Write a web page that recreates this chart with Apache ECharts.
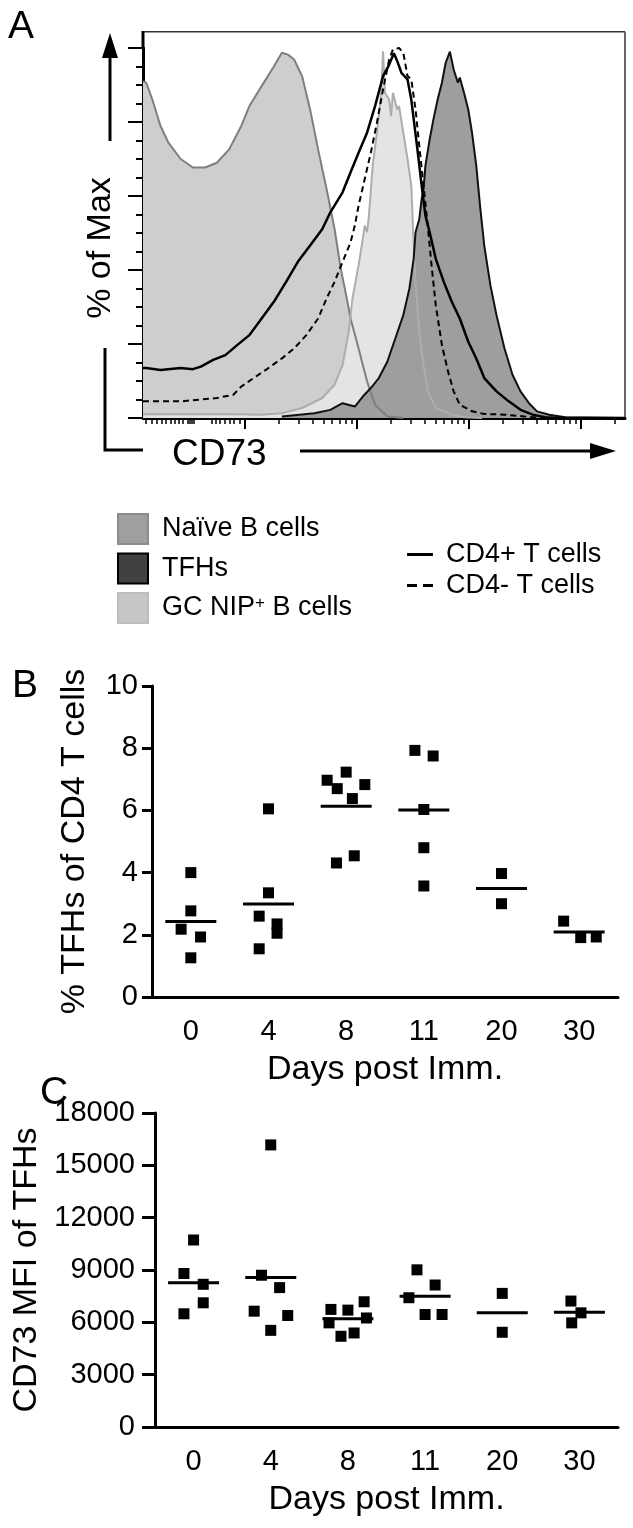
<!DOCTYPE html>
<html><head><meta charset="utf-8">
<script src="https://cdn.jsdelivr.net/npm/echarts@6/dist/echarts.min.js"></script>
<style>html,body{margin:0;padding:0;background:#fff}#c{width:633px;height:1528px}</style>
</head><body><div id="c"></div><script>
// ---------- Panel A : CD73 histograms (x = display channel 0-1024, y = % of Max) ----------
const naiveB = [[0,91],[7,90.6],[20,86],[37,79],[54,74.4],[80,70],[106,67.7],[132,67.7],[157,69],[183,72.6],[209,79],[226,84.3],[252,89.7],[278,95],[295,98.7],[308,98.2],[321,96.9],[338,92.4],[355,83.4],[372,72.6],[390,61.9],[407,51.1],[420,40.4],[433,32.3],[441,26.9],[458,18.8],[476,9.9],[493,3.6],[519,0.4],[553,0]];
const gcNipB = [[0,1],[100,1],[200,1],[250,0.9],[295,1.3],[338,2.7],[381,5.4],[407,9],[424,14.3],[437,23.3],[445,32.3],[458,41.3],[467,48.4],[471,52],[476,50.2],[480,54.7],[488,68.2],[497,77.1],[506,87.9],[510,99.1],[514,87.9],[523,86],[527,81.6],[531,87.9],[540,83.4],[544,84.3],[553,77.1],[562,70],[570,62.8],[574,50.2],[579,36.8],[587,23.3],[596,14.3],[605,7.2],[622,2.7],[656,0.9],[682,0.2],[720,0]];
const tfhHist = [[295,0.4],[364,1.3],[398,2.2],[424,4],[450,3.1],[467,5.8],[484,8.1],[501,10.8],[519,15.2],[536,21.5],[553,27.8],[566,35],[575,43],[579,50.2],[587,53.8],[592,59.2],[596,61.9],[600,68.2],[609,75.3],[617,80.7],[626,86.1],[635,90.6],[643,96],[652,99],[660,94.2],[669,90.6],[673,92],[682,87.9],[691,83.4],[699,77.1],[708,68.2],[716,57.4],[725,46.6],[738,35.9],[751,27.8],[768,18.8],[785,11.7],[802,7.2],[820,4],[837,1.8],[863,0.9],[897,0.2],[1024,0]];
const cd4Pos = [[0,13.5],[7,13.5],[37,13],[80,13.5],[106,13.2],[123,13.9],[149,15.7],[175,17],[200,19.7],[226,22.4],[252,26.9],[278,31.4],[304,36.8],[329,42.2],[355,46.6],[381,51.1],[398,55.6],[424,61],[441,66.4],[458,71.7],[476,77.1],[493,84.3],[510,92.4],[523,95.5],[533,98.6],[540,96.5],[549,93.3],[562,91.5],[570,86],[583,72.6],[592,62.8],[600,54.7],[609,50.2],[622,43],[639,36.8],[656,31.4],[673,26.9],[691,20.6],[708,16.1],[725,10.8],[751,7.2],[777,4.5],[802,2.2],[828,0.9],[854,0.2],[880,0],[1024,0]];
const cd4Neg = [[0,4.5],[7,4.5],[80,4.5],[157,5.4],[192,6.3],[209,8.5],[235,10.8],[261,13],[295,16.1],[321,18.8],[347,22.4],[372,26.9],[390,32.3],[407,36.8],[424,42.2],[441,47.5],[450,52],[458,57.4],[471,64.6],[484,71.7],[497,79.8],[510,88.8],[523,96.9],[531,99.6],[544,100],[553,98.7],[562,92.4],[570,91.5],[579,83.4],[587,73.5],[596,62.8],[605,52],[613,41.3],[622,30.5],[635,19.7],[648,12.6],[660,7.2],[673,3.6],[699,1.8],[725,1.1],[768,0.9],[811,0.4],[850,0]];
// x-axis tick positions (display channels): decades and compressed low region
const cd73DecadeCh = [216.7, 454.6, 692.6, 930.5];
const cd73DecadeWidth = 237.9;
const cd73LowTicksCh = [6,18,30,40,49,59,68,76,85,96,100,104,108,146,155,164,174,185,193,206];

// ---------- Panels B & C ----------
const days = ['0','4','8','11','20','30'];
const tfhPct = [
  [4.0, 2.77, 2.18, 1.93, 1.26],
  [6.05, 3.35, 2.6, 2.35, 2.05, 1.55],
  [6.97, 7.23, 6.7, 6.83, 6.38, 4.31, 4.54],
  [7.93, 7.75, 6.03, 4.8, 3.57],
  [3.97, 3.0],
  [2.44, 1.91, 1.93]
];
const tfhPctJitter = [
  [0, 0, -0.125, 0.125, 0],
  [0, 0, -0.12, 0.11, 0.11, -0.12],
  [-0.245, 0, -0.115, 0.24, 0.08, -0.125, 0.104],
  [-0.115, 0.12, 0, 0, 0],
  [0, 0],
  [-0.2, 0.02, 0.22]
];
const cd73Mfi = [
  [10720, 8800, 8180, 7120, 6490],
  [16170, 8700, 7990, 6640, 6390, 5540],
  [6740, 5970, 6700, 7180, 6250, 5200, 5390],
  [9010, 8140, 7410, 6450, 6450],
  [7660, 5430],
  [7220, 6545, 5970]
];
const cd73MfiJitter = [
  [0, -0.125, 0.125, 0.125, -0.125],
  [0, -0.12, 0.115, -0.215, 0.22, 0],
  [-0.22, -0.245, 0, 0.21, 0.24, -0.09, 0.08],
  [-0.105, 0.13, -0.21, 0, 0.22],
  [0, 0],
  [-0.11, 0.02, -0.1]
];

const FONT = "'Liberation Sans', Arial, Helvetica, sans-serif";

function points(vals, jit){
  const out = [];
  vals.forEach((arr, i) => arr.forEach((v, j) => out.push([i + jit[i][j], v])));
  return out;
}
function means(vals){
  return vals.map((arr, i) => [i, arr.reduce((a, b) => a + b, 0) / arr.length]);
}
const minorCh = [];
cd73DecadeCh.forEach(d => { for (let k = 2; k <= 9; k++) { const v = d + Math.log10(k) * cd73DecadeWidth; if (v <= 1024) minorCh.push(v); } });

const chart = echarts.init(document.getElementById('c'), null, {renderer: 'canvas'});

const tickLbl = {fontSize: 29, color: '#000', fontFamily: FONT};
const nameStyle = {fontSize: 34, color: '#000', fontFamily: FONT};

function catAxis(grid){
  return {
    gridIndex: grid, type: 'category', data: days, boundaryGap: true, position: 'bottom',
    axisLine: {onZero: false, lineStyle: {color: '#000', width: 3}},
    axisTick: {alignWithLabel: true, length: 11, lineStyle: {color: '#000', width: 3}},
    axisLabel: Object.assign({margin: 20}, tickLbl),
    splitLine: {show: false},
    name: 'Days post Imm.', nameLocation: 'middle', nameGap: 56, nameTextStyle: nameStyle
  };
}

const option = {
  animation: false,
  backgroundColor: '#fff',
  textStyle: {fontFamily: FONT},
  grid: [
    {left: 143, top: 48, width: 482, height: 370},
    {left: 152, top: 686, width: 466, height: 311},
    {left: 155, top: 1113, width: 463, height: 314}
  ],
  xAxis: [
    {gridIndex: 0, type: 'value', min: 0, max: 1024, position: 'bottom',
     axisLine: {onZero: false, lineStyle: {color: '#000', width: 3}},
     axisTick: {customValues: cd73DecadeCh, length: 11, lineStyle: {color: '#000', width: 2}},
     axisLabel: {show: false}, splitLine: {show: false}},
    {gridIndex: 0, type: 'value', min: 0, max: 1024, position: 'bottom',
     axisLine: {show: false, onZero: false},
     axisTick: {customValues: minorCh.concat(cd73LowTicksCh), length: 6, lineStyle: {color: '#000', width: 1.5}},
     axisLabel: {show: false}, splitLine: {show: false}},
    catAxis(1),
    {gridIndex: 1, type: 'value', min: -0.5, max: 5.5, show: false, position: 'bottom'},
    catAxis(2),
    {gridIndex: 2, type: 'value', min: -0.5, max: 5.5, show: false, position: 'bottom'}
  ],
  yAxis: [
    {gridIndex: 0, type: 'value', min: 0, max: 100, interval: 20,
     axisLine: {show: true, onZero: false, lineStyle: {color: '#000', width: 3}},
     axisTick: {show: true, length: 15, lineStyle: {color: '#000', width: 2}},
     minorTick: {show: true, splitNumber: 4, length: 7, lineStyle: {color: '#000', width: 2}},
     axisLabel: {show: false}, splitLine: {show: false}},
    {gridIndex: 1, type: 'value', min: 0, max: 10, interval: 2,
     axisLine: {show: true, onZero: false, lineStyle: {color: '#000', width: 3}},
     axisTick: {show: true, length: 10, lineStyle: {color: '#000', width: 3}},
     axisLabel: Object.assign({margin: 14}, tickLbl), splitLine: {show: false},
     name: '% TFHs of CD4 T cells', nameLocation: 'middle', nameRotate: 90, nameGap: 60, nameTextStyle: nameStyle},
    {gridIndex: 2, type: 'value', min: 0, max: 18000, interval: 3000,
     axisLine: {show: true, onZero: false, lineStyle: {color: '#000', width: 3}},
     axisTick: {show: true, length: 13, lineStyle: {color: '#000', width: 3}},
     axisLabel: Object.assign({margin: 20, formatter: v => String(v)}, tickLbl), splitLine: {show: false},
     name: 'CD73 MFI of TFHs', nameLocation: 'middle', nameRotate: 90, nameGap: 104, nameTextStyle: nameStyle}
  ],
  legend: [
    {orient: 'vertical', left: 112, top: 508, itemWidth: 30, itemHeight: 30, itemGap: 7.5, icon: 'rect',
     selectedMode: false,
     data: [
       {name: 'Naïve B cells', itemStyle: {color: '#9f9f9f', borderColor: '#8c8c8c', borderWidth: 2}},
       {name: 'TFHs', itemStyle: {color: '#414141', borderColor: '#000', borderWidth: 2}},
       {name: 'GC NIP+ B cells', itemStyle: {color: '#c6c6c6', borderColor: '#bdbdbd', borderWidth: 2}}
     ],
     formatter: function(n){ return n === 'GC NIP+ B cells' ? '{t|GC NIP}{s|+}{t| B cells}' : '{t|' + n + '}'; },
     textStyle: {padding: [0, 0, 0, 9], rich: {
       t: {fontSize: 27, color: '#000', fontFamily: FONT},
       s: {fontSize: 17, color: '#000', fontFamily: FONT, verticalAlign: 'top', padding: [0, 0, 10, 0]}}}},
    {orient: 'vertical', left: 402, top: 535, itemWidth: 26, itemHeight: 3, itemGap: 2, selectedMode: false,
     data: [
       {name: 'CD4+ T cells', icon: 'rect', itemStyle: {color: '#000'}},
       {name: 'CD4- T cells', icon: 'path://M0,0h10v3h-10zM16,0h10v3h-10z', itemStyle: {color: '#000'}}
     ],
     textStyle: {fontSize: 27, color: '#000', fontFamily: FONT, lineHeight: 29, padding: [0, 0, 0, 8]}}
  ],
  graphic: [
    {type: 'line', shape: {x1: 143, y1: 31.7, x2: 625, y2: 31.7}, style: {stroke: '#333', lineWidth: 1.5}},
    {type: 'line', shape: {x1: 625, y1: 31.7, x2: 625, y2: 418}, style: {stroke: '#333', lineWidth: 1.5}},
    {type: 'line', shape: {x1: 143, y1: 31, x2: 143, y2: 49}, style: {stroke: '#000', lineWidth: 3}},
    {type: 'line', shape: {x1: 110, y1: 50, x2: 110, y2: 141}, style: {stroke: '#000', lineWidth: 3}},
    {type: 'polygon', shape: {points: [[110, 33], [102, 58], [118, 58]]}, style: {fill: '#000'}},
    {type: 'text', x: 101, y: 248, rotation: Math.PI / 2,
     style: {text: '% of Max', fontSize: 34, fontFamily: FONT, fill: '#000', align: 'center', verticalAlign: 'middle'}},
    {type: 'polyline', shape: {points: [[105, 348], [105, 450], [143, 450]]}, style: {stroke: '#000', lineWidth: 3, fill: null}},
    {type: 'text', x: 172, y: 455,
     style: {text: 'CD73', fontSize: 37, fontFamily: FONT, fill: '#000', align: 'left', verticalAlign: 'middle'}},
    {type: 'line', shape: {x1: 300, y1: 451, x2: 595, y2: 451}, style: {stroke: '#000', lineWidth: 3}},
    {type: 'polygon', shape: {points: [[616, 451], [590, 443], [590, 459]]}, style: {fill: '#000'}},
    {type: 'text', x: 8, y: 27, style: {text: 'A', fontSize: 39, fontFamily: FONT, fill: '#000', verticalAlign: 'middle'}},
    {type: 'text', x: 12, y: 686, style: {text: 'B', fontSize: 39, fontFamily: FONT, fill: '#000', verticalAlign: 'middle'}},
    {type: 'text', x: 40, y: 1093, style: {text: 'C', fontSize: 39, fontFamily: FONT, fill: '#000', verticalAlign: 'middle'}}
  ],
  series: [
    {name: 'Naïve B cells', type: 'line', xAxisIndex: 0, yAxisIndex: 0, data: naiveB, symbol: 'none',
     lineStyle: {color: '#7f7f7f', width: 2}, itemStyle: {color: '#9f9f9f'}, areaStyle: {color: '#cecece', opacity: 1}},
    {name: 'GC NIP+ B cells', type: 'line', xAxisIndex: 0, yAxisIndex: 0, data: gcNipB, symbol: 'none',
     lineStyle: {color: '#adadad', width: 2}, itemStyle: {color: '#c6c6c6'}, areaStyle: {color: '#e4e4e4', opacity: 1}},
    {name: 'TFHs', type: 'line', xAxisIndex: 0, yAxisIndex: 0, data: tfhHist, symbol: 'none',
     lineStyle: {color: '#111', width: 2}, itemStyle: {color: '#414141'}, areaStyle: {color: '#9e9e9e', opacity: 1}},
    {name: 'CD4+ T cells', type: 'line', xAxisIndex: 0, yAxisIndex: 0, data: cd4Pos, symbol: 'none',
     lineStyle: {color: '#000', width: 2.5}, itemStyle: {color: '#000'}},
    {name: 'CD4- T cells', type: 'line', xAxisIndex: 0, yAxisIndex: 0, data: cd4Neg, symbol: 'none',
     lineStyle: {color: '#000', width: 2, type: [6, 4]}, itemStyle: {color: '#000'}},
    {type: 'scatter', xAxisIndex: 3, yAxisIndex: 1, data: points(tfhPct, tfhPctJitter),
     symbol: 'rect', symbolSize: 11, itemStyle: {color: '#000', opacity: 1}},
    {type: 'scatter', xAxisIndex: 3, yAxisIndex: 1, data: means(tfhPct),
     symbol: 'rect', symbolSize: [51, 3], itemStyle: {color: '#000', opacity: 1}},
    {type: 'scatter', xAxisIndex: 5, yAxisIndex: 2, data: points(cd73Mfi, cd73MfiJitter),
     symbol: 'rect', symbolSize: 11, itemStyle: {color: '#000', opacity: 1}},
    {type: 'scatter', xAxisIndex: 5, yAxisIndex: 2, data: means(cd73Mfi),
     symbol: 'rect', symbolSize: [51, 3], itemStyle: {color: '#000', opacity: 1}}
  ]
};
chart.setOption(option);
</script></body></html>
